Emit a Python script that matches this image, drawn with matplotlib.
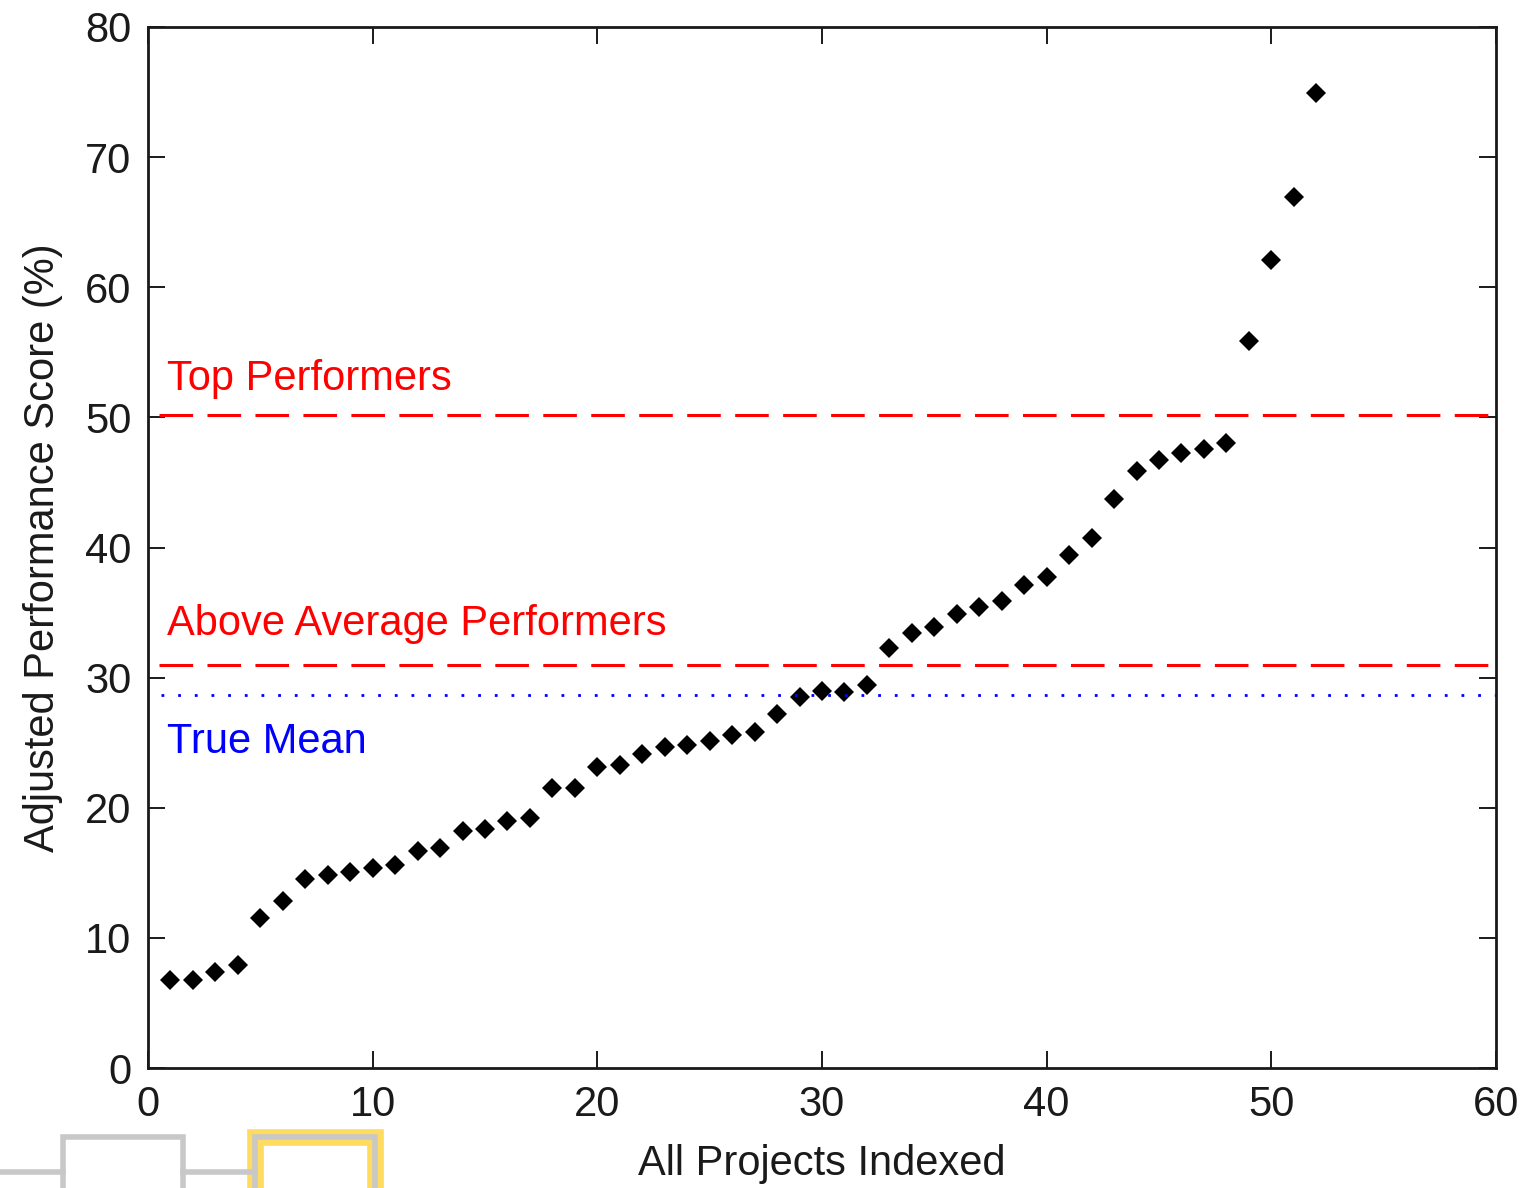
import matplotlib
matplotlib.use("Agg")
import matplotlib.pyplot as plt
from matplotlib.patches import Rectangle
from matplotlib.lines import Line2D

# Data
project_index = list(range(1, 53))
scores = [6.8, 6.8, 7.4, 7.9, 11.5, 12.8, 14.5, 14.8, 15.1, 15.4,
          15.6, 16.7, 16.9, 18.2, 18.4, 19.0, 19.2, 21.5, 21.5, 23.1,
          23.3, 24.1, 24.7, 24.8, 25.1, 25.6, 25.8, 27.2, 28.5, 29.0,
          28.9, 29.4, 32.3, 33.4, 33.9, 34.9, 35.4, 35.9, 37.1, 37.7,
          39.4, 40.7, 43.7, 45.9, 46.7, 47.3, 47.6, 48.0, 55.9, 62.1,
          66.9, 74.9]
top_threshold = 50.2
above_avg_threshold = 31.0
true_mean = 28.7
x_ticks = [0, 10, 20, 30, 40, 50, 60]
y_ticks = [0, 10, 20, 30, 40, 50, 60, 70, 80]

plt.rcParams['font.family'] = ['Liberation Sans', 'DejaVu Sans']

W, H = 1528, 1188
fig = plt.figure(figsize=(W / 100, H / 100), dpi=100)
ax = fig.add_axes([148 / W, 1 - 1068 / H, (1496 - 148) / W, (1068 - 27) / H])

ax.plot(project_index, scores, linestyle='none', marker='D', markersize=10.5,
        color='black', markeredgewidth=0)

ax.plot([0.5, 60], [top_threshold] * 2, color='#ff0000', lw=2.2, dashes=(11, 4.7))
ax.plot([0.5, 60], [above_avg_threshold] * 2, color='#ff0000', lw=2.2, dashes=(11, 4.7))
ax.plot([0.6, 60], [true_mean] * 2, color='#0000ff', lw=2.0, dashes=(1, 5))

ax.text(0.85, 52.1, 'Top Performers', color='#ff0000', fontsize=30, va='baseline')
ax.text(0.85, 33.3, 'Above Average Performers', color='#ff0000', fontsize=30, va='baseline')
ax.text(0.85, 24.2, 'True Mean', color='#0000ff', fontsize=30, va='baseline')

ax.set_xlim(0, 60)
ax.set_ylim(0, 80)
ax.set_xticks(x_ticks)
ax.set_yticks(y_ticks)
ax.tick_params(direction='in', length=12, width=1.4, top=True, right=True,
               labelsize=30, pad=12, color='#1a1a1a', labelcolor='#1a1a1a')
for s in ax.spines.values():
    s.set_linewidth(2.0)
    s.set_color('#1a1a1a')

ax.set_xlabel('All Projects Indexed', fontsize=30, labelpad=14, color='#1a1a1a')
ax.set_ylabel('Adjusted Performance Score (%)', fontsize=30, labelpad=16, color='#1a1a1a')

# UI fragments at bottom-left
gray = '#c8c8c8'
fig.add_artist(Line2D([0, 63 / W], [1 - 1172 / H] * 2, color=gray, lw=4, transform=fig.transFigure))
fig.add_artist(Line2D([183 / W, 255 / W], [1 - 1172 / H] * 2, color=gray, lw=4, transform=fig.transFigure))
fig.add_artist(Rectangle((63 / W, -0.02), 120 / W, 0.02 + (1188 - 1137) / H, fill=False,
                         edgecolor=gray, lw=4, transform=fig.transFigure))
fig.add_artist(Rectangle((255 / W, -0.02), 120 / W, 0.02 + (1188 - 1137) / H, fill=False,
                         edgecolor='#ffd84d', lw=12, alpha=0.9, transform=fig.transFigure))
fig.add_artist(Rectangle((255 / W, -0.02), 120 / W, 0.02 + (1188 - 1137) / H, fill=False,
                         edgecolor=gray, lw=4, transform=fig.transFigure))

fig.savefig('out.png', dpi=100)
